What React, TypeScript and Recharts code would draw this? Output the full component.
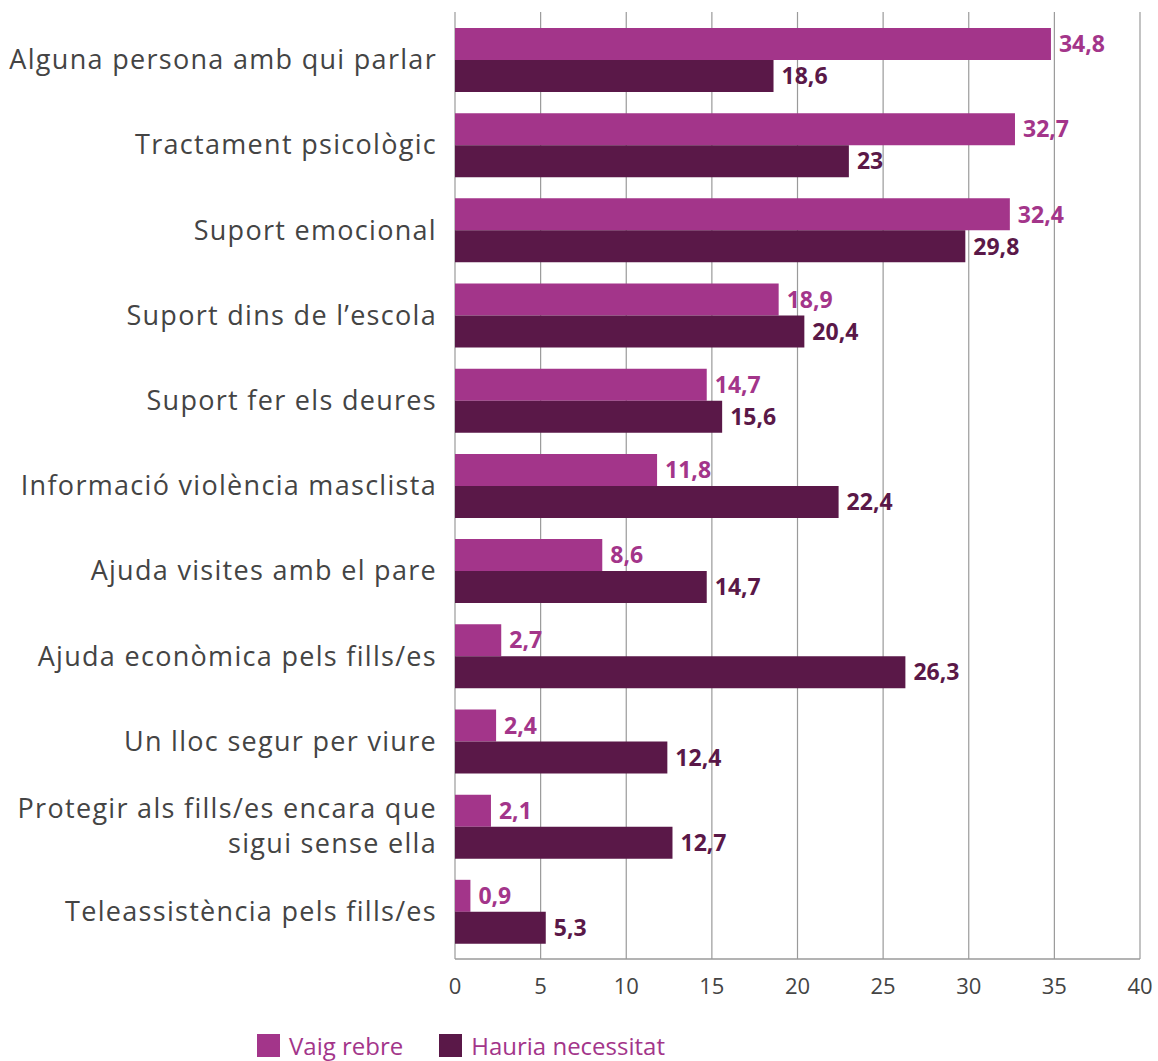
import { Bar, BarChart, CartesianGrid, LabelList, XAxis, YAxis } from "recharts"

const categories = [
  "Alguna persona amb qui parlar",
  "Tractament psicològic",
  "Suport emocional",
  "Suport dins de l’escola",
  "Suport fer els deures",
  "Informació violència masclista",
  "Ajuda visites amb el pare",
  "Ajuda econòmica pels fills/es",
  "Un lloc segur per viure",
  "Protegir als fills/es encara que\nsigui sense ella",
  "Teleassistència pels fills/es",
]

const vaigRebre = [34.8, 32.7, 32.4, 18.9, 14.7, 11.8, 8.6, 2.7, 2.4, 2.1, 0.9]
const hauriaNecessitat = [18.6, 23, 29.8, 20.4, 15.6, 22.4, 14.7, 26.3, 12.4, 12.7, 5.3]

const xTicks = [0, 5, 10, 15, 20, 25, 30, 35, 40]

const PINK = "#a3358a"
const PLUM = "#5a1848"
const FONT = "'Open Sans', sans-serif"

const series = [
  { key: "rebre", name: "Vaig rebre", color: PINK },
  { key: "necessitat", name: "Hauria necessitat", color: PLUM },
]

const data = categories.map((category, i) => ({
  category,
  rebre: vaigRebre[i],
  necessitat: hauriaNecessitat[i],
}))

const fmt = (v: number) => String(v).replace(".", ",")

function CategoryTick(props: any) {
  const { x, y, payload } = props
  const lines = String(payload.value).split("\n")
  const lh = 35
  const start = y - ((lines.length - 1) * lh) / 2
  return (
    <text x={x} y={start} textAnchor="end" fontSize={27} fill="#444" fontFamily={FONT} letterSpacing={1.3}>
      {lines.map((line, i) => (
        <tspan key={i} x={x} y={start + i * lh} dy="0.36em">
          {line}
        </tspan>
      ))}
    </text>
  )
}

export default function App() {
  return (
    <div style={{ position: "relative", width: 1158, height: 1061, overflow: "hidden" }}>
      <style>{`body { margin: 0; }`}</style>
      <BarChart
        width={1158}
        height={1061}
        data={data}
        layout="vertical"
        margin={{ top: 12, right: 18, bottom: 62, left: 0 }}
        barGap={0}
        barSize={32}
      >
        <CartesianGrid horizontal={false} stroke="#9a9a9a" strokeWidth={1.2} />
        <XAxis
          type="number"
          domain={[0, 40]}
          ticks={xTicks}
          tickLine={false}
          axisLine={{ stroke: "#9a9a9a", strokeWidth: 1.5 }}
          tickSize={0}
          tickMargin={19}
          height={40}
          tick={{ fontSize: 22, fill: "#444", fontFamily: FONT }}
        />
        <YAxis
          type="category"
          dataKey="category"
          width={455}
          padding={{ top: 5, bottom: 5 }}
          tickLine={false}
          axisLine={false}
          tickSize={0}
          tickMargin={18}
          tick={<CategoryTick />}
          interval={0}
        />
        {series.map((s) => (
          <Bar key={s.key} dataKey={s.key} name={s.name} fill={s.color} isAnimationActive={false}>
            <LabelList
              dataKey={s.key}
              position="right"
              offset={8}
              formatter={(v: any) => fmt(v)}
              style={{ fontSize: 23, fontWeight: 700, fill: s.color, fontFamily: FONT }}
            />
          </Bar>
        ))}
      </BarChart>
      <div
        style={{
          position: "absolute",
          left: 257,
          top: 1034,
          display: "flex",
          alignItems: "center",
          fontFamily: FONT,
          fontSize: 24,
          lineHeight: "23px",
          color: PINK,
        }}
      >
        {series.map((s) => (
          <div key={s.key} style={{ display: "flex", alignItems: "center", marginRight: 36 }}>
            <span style={{ display: "inline-block", width: 23, height: 23, background: s.color, marginRight: 9 }} />
            <span>{s.name}</span>
          </div>
        ))}
      </div>
    </div>
  )
}
